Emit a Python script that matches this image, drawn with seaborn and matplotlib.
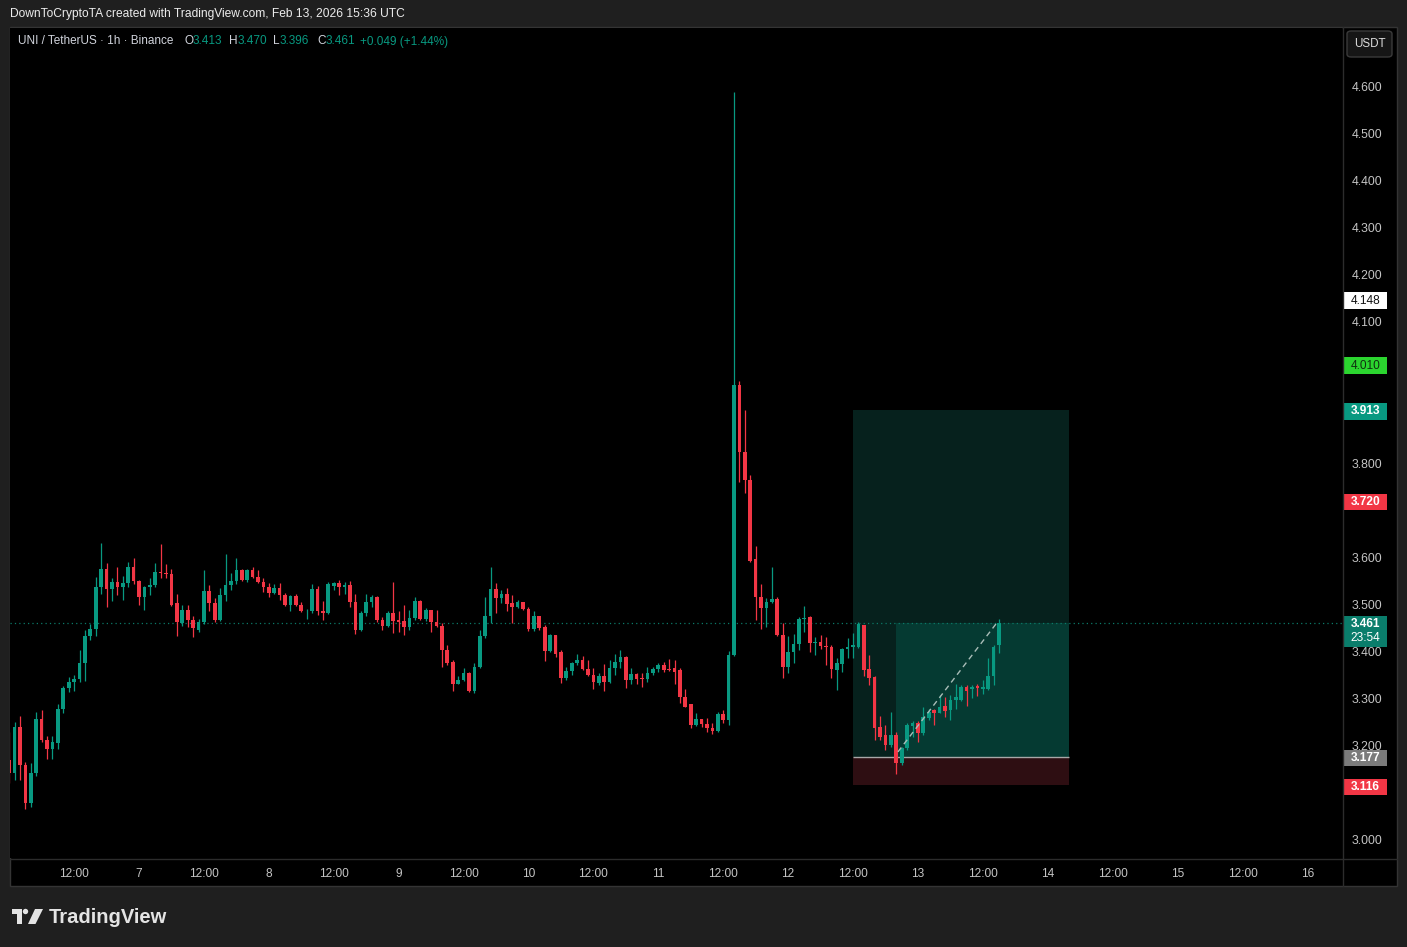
import numpy as np
import pandas as pd
import matplotlib
matplotlib.use("Agg")
import matplotlib.pyplot as plt
import matplotlib.transforms as mtransforms
from matplotlib.patches import Rectangle, Ellipse, Polygon, FancyBboxPatch
import seaborn as sns

# hourly candles, Feb 6 00:00 -> Feb 13 15:00 (UTC)
opens = [
    3.170, 3.143, 3.240, 3.159, 3.078, 3.143, 3.257, 3.212, 3.193, 3.206,
    3.278, 3.323, 3.336, 3.341, 3.376, 3.433, 3.447, 3.537, 3.575, 3.532,
    3.547, 3.536, 3.545, 3.580, 3.550, 3.516, 3.537, 3.541, 3.569, 3.567,
    3.564, 3.502, 3.460, 3.489, 3.467, 3.446, 3.462, 3.528, 3.502, 3.467,
    3.520, 3.541, 3.550, 3.574, 3.552, 3.573, 3.559, 3.547, 3.536, 3.525,
    3.534, 3.520, 3.499, 3.518, 3.499, 3.485, 3.486, 3.532, 3.485, 3.481,
    3.540, 3.546, 3.536, 3.541, 3.506, 3.446, 3.481, 3.504, 3.516, 3.467,
    3.454, 3.481, 3.467, 3.464, 3.453, 3.472, 3.508, 3.468, 3.488, 3.463,
    3.454, 3.403, 3.378, 3.332, 3.340, 3.354, 3.317, 3.368, 3.433, 3.475,
    3.532, 3.513, 3.521, 3.502, 3.495, 3.504, 3.490, 3.447, 3.475, 3.453,
    3.402, 3.435, 3.398, 3.343, 3.359, 3.376, 3.382, 3.362, 3.350, 3.334,
    3.348, 3.336, 3.366, 3.378, 3.389, 3.340, 3.352, 3.343, 3.342, 3.354,
    3.362, 3.371, 3.363, 3.366, 3.361, 3.303, 3.288, 3.244, 3.256, 3.246,
    3.237, 3.232, 3.267, 3.255, 3.393, 3.966, 3.824, 3.763, 3.596, 3.515,
    3.492, 3.504, 3.511, 3.435, 3.368, 3.398, 3.416, 3.470, 3.474, 3.419,
    3.421, 3.412, 3.410, 3.361, 3.373, 3.405, 3.409, 3.410, 3.456, 3.362,
    3.345, 3.239, 3.223, 3.202, 3.223, 3.163, 3.195, 3.242, 3.248, 3.226,
    3.258, 3.276, 3.270, 3.284, 3.276, 3.297, 3.297, 3.325, 3.320, 3.327,
    3.320, 3.320, 3.347, 3.413,
]
highs = [
    3.230, 3.250, 3.263, 3.165, 3.164, 3.272, 3.275, 3.221, 3.220, 3.289,
    3.327, 3.346, 3.350, 3.403, 3.446, 3.458, 3.558, 3.631, 3.588, 3.556,
    3.580, 3.560, 3.590, 3.598, 3.552, 3.540, 3.556, 3.588, 3.628, 3.585,
    3.576, 3.522, 3.499, 3.499, 3.475, 3.468, 3.572, 3.541, 3.513, 3.534,
    3.607, 3.566, 3.598, 3.576, 3.576, 3.580, 3.573, 3.555, 3.545, 3.543,
    3.545, 3.525, 3.520, 3.522, 3.506, 3.490, 3.543, 3.538, 3.508, 3.548,
    3.548, 3.552, 3.547, 3.550, 3.523, 3.485, 3.523, 3.520, 3.517, 3.474,
    3.485, 3.547, 3.485, 3.499, 3.488, 3.515, 3.510, 3.492, 3.489, 3.488,
    3.461, 3.414, 3.382, 3.347, 3.366, 3.357, 3.375, 3.446, 3.515, 3.580,
    3.545, 3.531, 3.534, 3.520, 3.509, 3.506, 3.495, 3.486, 3.476, 3.456,
    3.437, 3.435, 3.403, 3.368, 3.378, 3.395, 3.390, 3.383, 3.366, 3.354,
    3.373, 3.382, 3.395, 3.403, 3.391, 3.364, 3.354, 3.354, 3.368, 3.368,
    3.375, 3.378, 3.385, 3.382, 3.364, 3.320, 3.289, 3.269, 3.257, 3.258,
    3.248, 3.272, 3.276, 3.402, 4.587, 3.973, 3.912, 3.775, 3.624, 3.543,
    3.513, 3.580, 3.516, 3.461, 3.433, 3.437, 3.474, 3.497, 3.475, 3.431,
    3.435, 3.431, 3.414, 3.386, 3.407, 3.428, 3.439, 3.463, 3.456, 3.393,
    3.347, 3.263, 3.244, 3.272, 3.230, 3.198, 3.248, 3.253, 3.253, 3.282,
    3.279, 3.279, 3.308, 3.304, 3.308, 3.332, 3.329, 3.329, 3.329, 3.332,
    3.340, 3.386, 3.414, 3.470,
]
lows = [
    3.120, 3.127, 3.127, 3.066, 3.071, 3.135, 3.208, 3.172, 3.172, 3.193,
    3.270, 3.314, 3.316, 3.335, 3.338, 3.425, 3.433, 3.523, 3.495, 3.507,
    3.520, 3.510, 3.537, 3.543, 3.498, 3.489, 3.520, 3.537, 3.556, 3.555,
    3.497, 3.433, 3.455, 3.453, 3.431, 3.442, 3.458, 3.485, 3.463, 3.465,
    3.508, 3.530, 3.543, 3.550, 3.548, 3.555, 3.545, 3.527, 3.516, 3.523,
    3.509, 3.497, 3.485, 3.497, 3.483, 3.468, 3.481, 3.478, 3.467, 3.479,
    3.531, 3.520, 3.523, 3.495, 3.437, 3.444, 3.476, 3.495, 3.463, 3.446,
    3.453, 3.439, 3.442, 3.435, 3.446, 3.467, 3.467, 3.464, 3.442, 3.451,
    3.368, 3.371, 3.317, 3.331, 3.338, 3.315, 3.311, 3.366, 3.428, 3.461,
    3.481, 3.502, 3.485, 3.460, 3.492, 3.488, 3.444, 3.444, 3.446, 3.380,
    3.400, 3.389, 3.334, 3.340, 3.350, 3.372, 3.361, 3.348, 3.320, 3.329,
    3.317, 3.334, 3.350, 3.364, 3.322, 3.331, 3.331, 3.325, 3.336, 3.350,
    3.357, 3.357, 3.359, 3.332, 3.291, 3.282, 3.238, 3.242, 3.240, 3.230,
    3.224, 3.230, 3.248, 3.244, 3.390, 3.760, 3.736, 3.589, 3.467, 3.447,
    3.453, 3.502, 3.433, 3.343, 3.354, 3.376, 3.403, 3.442, 3.398, 3.393,
    3.405, 3.371, 3.343, 3.318, 3.357, 3.386, 3.386, 3.407, 3.347, 3.329,
    3.212, 3.212, 3.191, 3.198, 3.141, 3.159, 3.191, 3.219, 3.209, 3.223,
    3.255, 3.244, 3.269, 3.262, 3.255, 3.279, 3.294, 3.284, 3.301, 3.306,
    3.309, 3.318, 3.329, 3.396,
]
closes = [
    3.142, 3.240, 3.159, 3.078, 3.143, 3.257, 3.212, 3.193, 3.208, 3.278,
    3.323, 3.336, 3.341, 3.376, 3.433, 3.447, 3.537, 3.575, 3.532, 3.547,
    3.536, 3.545, 3.580, 3.550, 3.516, 3.537, 3.541, 3.569, 3.567, 3.565,
    3.499, 3.463, 3.489, 3.467, 3.449, 3.462, 3.528, 3.502, 3.467, 3.520,
    3.541, 3.550, 3.574, 3.552, 3.573, 3.559, 3.547, 3.536, 3.525, 3.534,
    3.520, 3.499, 3.518, 3.499, 3.485, 3.487, 3.532, 3.485, 3.481, 3.543,
    3.546, 3.536, 3.541, 3.506, 3.446, 3.481, 3.504, 3.516, 3.467, 3.454,
    3.481, 3.464, 3.463, 3.453, 3.472, 3.508, 3.468, 3.488, 3.463, 3.454,
    3.403, 3.375, 3.332, 3.340, 3.354, 3.317, 3.368, 3.433, 3.475, 3.532,
    3.513, 3.521, 3.500, 3.495, 3.504, 3.490, 3.447, 3.475, 3.449, 3.402,
    3.435, 3.395, 3.343, 3.359, 3.376, 3.382, 3.362, 3.350, 3.336, 3.348,
    3.336, 3.366, 3.378, 3.389, 3.340, 3.352, 3.342, 3.342, 3.354, 3.362,
    3.371, 3.361, 3.361, 3.357, 3.303, 3.283, 3.244, 3.256, 3.246, 3.237,
    3.232, 3.267, 3.255, 3.393, 3.966, 3.824, 3.763, 3.591, 3.515, 3.492,
    3.506, 3.511, 3.435, 3.368, 3.398, 3.416, 3.470, 3.471, 3.419, 3.420,
    3.412, 3.409, 3.362, 3.375, 3.405, 3.410, 3.414, 3.458, 3.361, 3.343,
    3.237, 3.219, 3.202, 3.223, 3.163, 3.195, 3.244, 3.248, 3.226, 3.260,
    3.272, 3.270, 3.283, 3.274, 3.298, 3.303, 3.325, 3.317, 3.324, 3.322,
    3.324, 3.348, 3.410, 3.461,
]

price_ticks = [3.0, 3.1, 3.2, 3.3, 3.4, 3.5, 3.6, 3.7, 3.8, 3.9, 4.0, 4.1, 4.2, 4.3, 4.4, 4.5, 4.6]
hidden_ticks = [3.1, 3.7, 3.9, 4.0]  # sit under the price badges
time_ticks = [12, 24, 36, 48, 60, 72, 84, 96, 108, 120, 132, 144, 156, 168, 180, 192, 204, 216, 228, 240]
time_labels = ["12:00", "7", "12:00", "8", "12:00", "9", "12:00", "10", "12:00", "11",
               "12:00", "12", "12:00", "13", "12:00", "14", "12:00", "15", "12:00", "16"]

# long position tool
pos_start, pos_entry_bar, pos_end = 156.0, 163.9, 195.9
entry, target, stop, last = 3.177, 3.913, 3.116, 3.461

UP, DOWN = "#089981", "#f23645"
GREY_TXT = "#c4c4c4"

df = pd.DataFrame({"open": opens, "high": highs, "low": lows, "close": closes})
df["x"] = np.arange(len(df))
df["color"] = np.where(df["close"] >= df["open"], UP, DOWN)

sns.set_theme(style="dark")
plt.rcParams["font.family"] = ["Liberation Sans", "DejaVu Sans"]

W, H = 1407, 947
fig = plt.figure(figsize=(W / 100, H / 100), dpi=100)
fig.patch.set_facecolor("#1f1f1f")


def fx(px):
    return px / W


def fy(py):
    return 1 - py / H


# black chart panel (behind the axes)
fig.patches.append(Rectangle((fx(10), fy(886)), fx(1397) - fx(10), fy(27) - fy(886),
                             transform=fig.transFigure, facecolor="black",
                             edgecolor="#343434", lw=1, zorder=-5))

ax = fig.add_axes([fx(10), fy(858), fx(1342) - fx(10), fy(28) - fy(858)])
ax.set_facecolor("black")
ax.set_xlim(0.15, 246.4)
ax.set_ylim(2.9618, 4.7231)
for s in ax.spines.values():
    s.set_visible(False)
ax.grid(False)

# position zones
ax.add_patch(Rectangle((pos_start, entry), pos_end - pos_start, target - entry,
                       facecolor="#06211d", edgecolor="none", zorder=1))
ax.add_patch(Rectangle((pos_entry_bar, entry), pos_end - pos_entry_bar, last - entry,
                       facecolor="#053a32", edgecolor="none", zorder=1.1))
ax.add_patch(Rectangle((pos_start, stop), pos_end - pos_start, entry - stop,
                       facecolor="#2e0e12", edgecolor="none", zorder=1))
ax.hlines(entry, pos_start, pos_end, color="#a8a8a8", lw=1, zorder=1.2)

# last price dotted line
ax.axhline(last, color="#0b7a68", lw=0.9, ls=(0, (1, 2.5)), zorder=1.5)

# candles
ax.vlines(df["x"], df["low"], df["high"], colors=df["color"], lw=0.9, zorder=3)
body_lo = df[["open", "close"]].min(axis=1)
body_h = np.maximum((df["close"] - df["open"]).abs(), 0.0018)
ax.bar(df["x"], body_h, bottom=body_lo, width=0.68, color=df["color"],
       edgecolor="none", zorder=3.1)

# dashed trade path
sns.lineplot(x=[164.3, 182.6], y=[entry + 0.01, last], ax=ax, color="#a9bdb8",
             lw=1, zorder=4)
ax.lines[-1].set_linestyle((0, (4, 3)))

# axes ticks
ax.yaxis.tick_right()
ax.set_yticks(price_ticks)
ax.set_yticklabels(["" if v in hidden_ticks else f"{v:.3f}" for v in price_ticks])
ax.set_xticks(time_ticks)
ax.set_xticklabels(time_labels)
ax.tick_params(axis="y", length=0, pad=7, labelsize=8.8, labelcolor=GREY_TXT)
ax.tick_params(axis="x", length=0, pad=7.5, labelsize=8.6, labelcolor=GREY_TXT)
for t in ax.get_yticklabels():
    t.set_y(t.get_position()[1])
ax.set_xlabel("")
ax.set_ylabel("")

# separators
fig.add_artist(plt.Line2D([fx(1342.5), fx(1342.5)], [fy(27), fy(886)],
                          transform=fig.transFigure, color="#2c2c2c", lw=1))
fig.add_artist(plt.Line2D([fx(10), fx(1397)], [fy(858.5), fy(858.5)],
                          transform=fig.transFigure, color="#2c2c2c", lw=1))

# price badges on the axis
btr = mtransforms.blended_transform_factory(ax.transAxes, ax.transData)
bx0 = (1344 - 10) / 1332
bw = 43 / 1332
ph = 16.5 / 471.25
nudge = 1.5 / 471.25


def badge(price, text, bg, fg, bold=True, extra=None):
    h = ph if extra is None else ph + 14 / 471.25
    bottom = price - ph / 2 - (h - ph) - nudge
    ax.add_patch(Rectangle((bx0, bottom), bw, h, transform=btr, facecolor=bg,
                           edgecolor="none", clip_on=False, zorder=6))
    ax.text(bx0 + bw / 2, price - nudge, text, transform=btr, ha="center", va="center",
            fontsize=8.6, color=fg, weight="bold" if bold else "normal",
            clip_on=False, zorder=7)
    if extra is not None:
        ax.text(bx0 + bw / 2, price - nudge - 14 / 471.25, extra, transform=btr,
                ha="center", va="center", fontsize=8.6, color=fg, clip_on=False, zorder=7)


badge(4.148, "4.148", "#ffffff", "#111111", bold=False)
badge(4.010, "4.010", "#2bd52f", "#103010", bold=False)
badge(target, "3.913", "#089981", "#ffffff")
badge(3.720, "3.720", "#f23645", "#ffffff")
badge(last, "3.461", "#0a7d6b", "#ffffff", extra="23:54")
badge(entry, "3.177", "#7b7b7b", "#ffffff")
badge(stop, "3.116", "#f23645", "#ffffff")

# currency button
fig.patches.append(FancyBboxPatch((fx(1347), fy(57)), fx(1392) - fx(1347), fy(31) - fy(57),
                                  boxstyle="round,pad=0,rounding_size=0.003",
                                  transform=fig.transFigure, facecolor="#161616",
                                  edgecolor="#3a3a3a", lw=1, zorder=5))
fig.text(fx(1369.5), fy(44), "USDT", color="#dcdcdc", fontsize=8.4, ha="center",
         va="center", zorder=6)

# header texts
fig.text(fx(10), fy(14), "DownToCryptoTA created with TradingView.com, Feb 13, 2026 15:36 UTC",
         color="#ececec", fontsize=8.65, va="center")
legend_parts = [
    (18, "UNI / TetherUS · 1h · Binance", "#d1d4dc"),
    (184, "O", "#d1d4dc"), (192.5, "3.413", UP),
    (229, "H", "#d1d4dc"), (237.5, "3.470", UP),
    (273, "L", "#d1d4dc"), (280, "3.396", UP),
    (317, "C", "#d1d4dc"), (325.5, "3.461", UP),
    (360, "+0.049 (+1.44%)", UP),
]
for px, txt, col in legend_parts:
    fig.text(fx(px), fy(41.5), txt, color=col, fontsize=8.5, va="center")

# TradingView logo
logo_col = "#e4e4e4"
fig.patches.append(Rectangle((fx(12), fy(914)), fx(22) - fx(12), fy(909) - fy(914),
                             transform=fig.transFigure, facecolor=logo_col, edgecolor="none"))
fig.patches.append(Rectangle((fx(16.5), fy(924)), fx(22) - fx(16.5), fy(909) - fy(924),
                             transform=fig.transFigure, facecolor=logo_col, edgecolor="none"))
fig.patches.append(Ellipse((fx(25.5), fy(911.5)), 5.4 / W, 5.4 / H,
                           transform=fig.transFigure, facecolor=logo_col, edgecolor="none"))
fig.patches.append(Polygon([(fx(35), fy(909)), (fx(43), fy(909)), (fx(35.5), fy(924)), (fx(28), fy(924))],
                           closed=True, transform=fig.transFigure, facecolor=logo_col, edgecolor="none"))
fig.text(fx(49), fy(917), "TradingView", color=logo_col, fontsize=14.5, weight="bold", va="center")

fig.savefig("out.png", dpi=100, facecolor=fig.get_facecolor())
